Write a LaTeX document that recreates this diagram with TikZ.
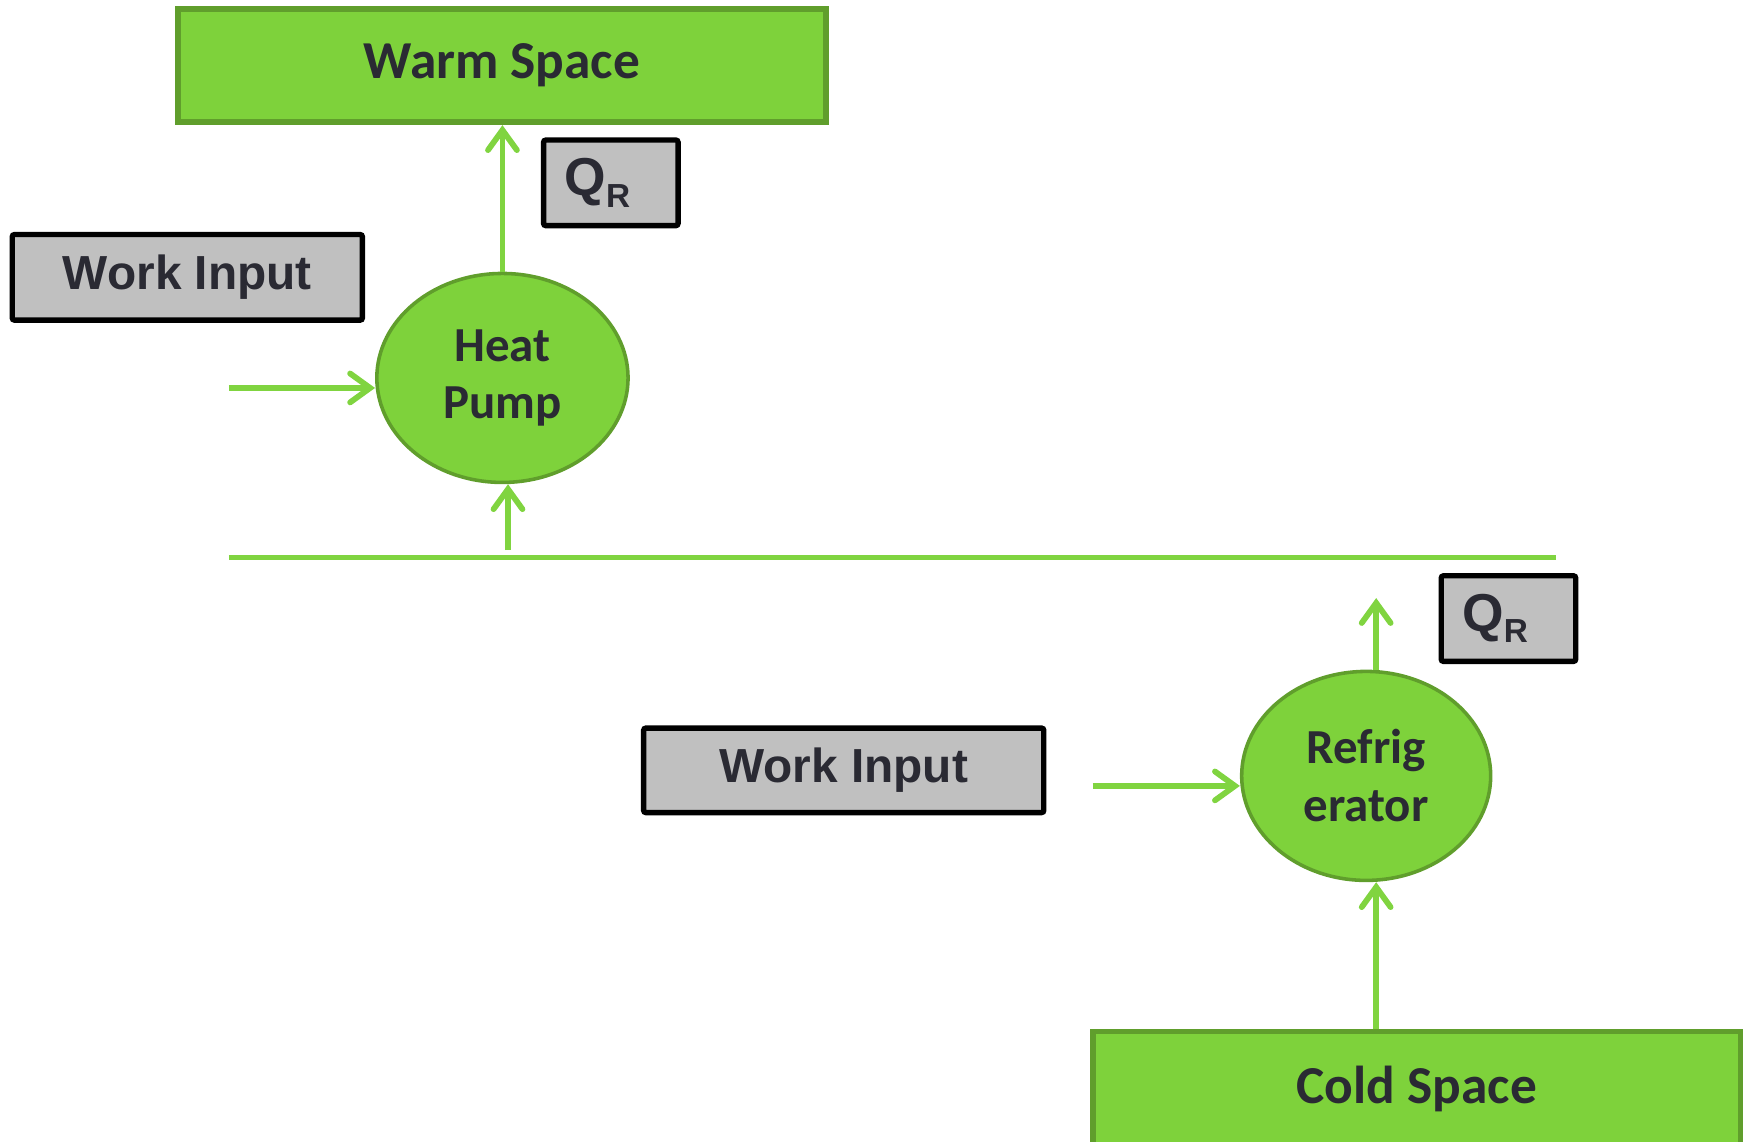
\documentclass[tikz,border=0pt]{standalone}
\usepackage{fontspec}
\setmainfont{Carlito}
\newfontfamily\arialfont{Liberation Sans}
\usetikzlibrary{arrows.meta,shapes.geometric}
\definecolor{spacegreen}{RGB}{126,210,59}
\definecolor{edgegreen}{RGB}{96,158,44}
\definecolor{flowgreen}{RGB}{128,212,64}
\definecolor{labelgray}{RGB}{192,192,192}
\definecolor{textdark}{RGB}{42,42,51}
\begin{document}
\begin{tikzpicture}
[x=0.5pt,y=-0.5pt,
  spaceBox/.style={draw=edgegreen,fill=spacegreen,line width=2.6pt,minimum width=291.5pt,
    minimum height=51pt,inner sep=0pt,text=textdark,font=\bfseries\fontsize{24}{28}\selectfont},
  tagBox/.style={draw=black,fill=labelgray,line width=2.4pt,rounded corners=1pt,minimum height=38.5pt,
    inner sep=0pt,text=textdark,font=\arialfont\bfseries\fontsize{21.5}{26}\selectfont},
  qBox/.style={tagBox,text width=41.5pt,inner xsep=9.5pt,align=left,minimum width=60.5pt,
    font=\arialfont\bfseries\fontsize{24}{28}\selectfont},
  machine/.style={ellipse,draw=edgegreen,fill=spacegreen,line width=1.6pt,inner sep=0pt,
    minimum width=113pt,minimum height=94pt,align=center,text=textdark,
    font=\bfseries\fontsize{22}{26}\selectfont},
  flow/.style={draw=flowgreen,line width=2.6pt,-{Straight Barb[length=9pt,width=13pt,line cap=round]}},
  rail/.style={draw=flowgreen,line width=2.6pt}]
\useasboundingbox (0,0) rectangle (1568,1027);
%% boxes
\node (warm) at (451.5,59) [spaceBox] {Warm Space};
\node (cold) at (1274.5,980) [spaceBox,minimum height=52pt] {Cold Space};
\node (qhp) at (549.5,164.5) [qBox] {Q\raisebox{-5pt}{\fontsize{15}{15}\selectfont R}};
\node (qrf) at (1357,556.5) [qBox,minimum width=60pt] {Q\raisebox{-5pt}{\fontsize{15}{15}\selectfont R}};
\node (wihp) at (168.5,249.5) [tagBox,minimum width=157.5pt] {Work Input};
\node (wirf) at (759,693) [tagBox,minimum width=180pt,minimum height=38pt] {Work Input};
%% machines
\node (hp) at (452,340) [machine] {Heat\\Pump};
\node (rf) at (1229,698) [machine,minimum width=112pt] {Refrig\\erator};
%% free ends
\coordinate (hpin) at (206,349);
\coordinate (rfin) at (983,707);
\coordinate (lineL) at (206,501.5);
\coordinate (lineR) at (1400,501.5);
\coordinate (hpfeed) at (457,495);
\coordinate (rfout) at (1238,538);
\coordinate (rffeed) at (1238,926);
%% connectors
\draw[rail] (lineL) -- (lineR);
\draw[flow] (hp.north) -- (hp.north |- warm.south);
\draw[flow] (hpin) -- (hpin -| hp.west);
\draw[flow] (hpfeed) -- (hpfeed |- hp.south);
\draw[flow] (rfout |- rf.north) -- (rfout);
\draw[flow] (rfin) -- (rfin -| rf.west);
\draw[flow] (rffeed) -- (rffeed |- rf.south);
\end{tikzpicture}
\end{document}
